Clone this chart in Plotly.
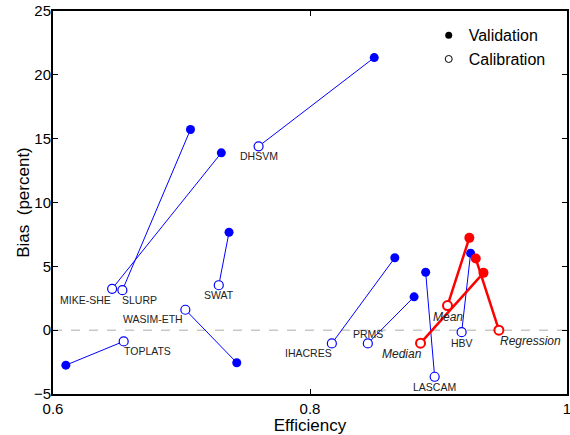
import plotly.graph_objects as go

# ---- data ----
models = ["DHSVM", "MIKE-SHE", "SLURP", "SWAT", "WASIM-ETH", "TOPLATS",
          "IHACRES", "PRMS", "LASCAM", "HBV"]
cal_eff = [0.760, 0.646, 0.654, 0.729, 0.703, 0.655, 0.817, 0.845, 0.897, 0.918]
cal_bias = [14.4, 3.24, 3.13, 3.52, 1.60, -0.88, -1.04, -1.04, -3.65, -0.16]
val_eff = [0.850, 0.731, 0.707, 0.737, 0.743, 0.610, 0.866, 0.881, 0.890, 0.925]
val_bias = [21.35, 13.89, 15.72, 7.67, -2.55, -2.74, 5.67, 2.61, 4.54, 6.03]

ens = ["Mean", "Median", "Regression"]
ens_cal_eff = [0.907, 0.886, 0.947]
ens_cal_bias = [1.93, -1.02, 0.0]
ens_val_eff = [0.924, 0.935, 0.929]
ens_val_bias = [7.23, 4.49, 5.61]

x_ticks = [0.6, 0.8, 1.0]
x_ticktext = ["0.6", "0.8", "1"]
y_ticks = [-5, 0, 5, 10, 15, 20, 25]

# label offsets (pixels) relative to calibration point
model_label_shift = {
    "DHSVM": (0, -10), "MIKE-SHE": (-27, -11), "SLURP": (17, -10),
    "SWAT": (0, -10), "WASIM-ETH": (-32, -9), "TOPLATS": (24, -10),
    "IHACRES": (-23, -10), "PRMS": (0, 9), "LASCAM": (0, -10), "HBV": (0, -11),
}
ens_label_shift = {"Mean": (0, -11), "Median": (-19, -11), "Regression": (32, -11)}

BLUE = "#0000ff"
RED = "#ff0000"
FONT = "Liberation Sans, Arial, Helvetica, sans-serif"

fig = go.Figure()

# blue model lines + markers
for i, m in enumerate(models):
    fig.add_trace(go.Scatter(x=[cal_eff[i], val_eff[i]], y=[cal_bias[i], val_bias[i]],
                             mode="lines", line=dict(color=BLUE, width=1),
                             showlegend=False, hoverinfo="skip"))
for i, m in enumerate(models):
    fig.add_trace(go.Scatter(x=[val_eff[i]], y=[val_bias[i]], mode="markers",
                             marker=dict(color=BLUE, size=9, line=dict(width=0)),
                             showlegend=False, name=m))
    fig.add_trace(go.Scatter(x=[cal_eff[i]], y=[cal_bias[i]], mode="markers",
                             marker=dict(color="white", size=9, line=dict(color=BLUE, width=1.2)),
                             showlegend=False, name=m))

# red ensemble lines + markers
for i, m in enumerate(ens):
    fig.add_trace(go.Scatter(x=[ens_cal_eff[i], ens_val_eff[i]], y=[ens_cal_bias[i], ens_val_bias[i]],
                             mode="lines", line=dict(color=RED, width=2.5),
                             showlegend=False, hoverinfo="skip"))
for i, m in enumerate(ens):
    fig.add_trace(go.Scatter(x=[ens_val_eff[i]], y=[ens_val_bias[i]], mode="markers",
                             marker=dict(color=RED, size=10, line=dict(width=0)),
                             showlegend=False, name=m))
    fig.add_trace(go.Scatter(x=[ens_cal_eff[i]], y=[ens_cal_bias[i]], mode="markers",
                             marker=dict(color="white", size=9, line=dict(color=RED, width=2)),
                             showlegend=False, name=m))

# legend entries
fig.add_trace(go.Scatter(x=[None], y=[None], mode="markers", name="Validation",
                         marker=dict(color="black", size=7, line=dict(width=0))))
fig.add_trace(go.Scatter(x=[None], y=[None], mode="markers", name="Calibration",
                         marker=dict(color="white", size=7, line=dict(color="black", width=1))))

# zero line
fig.add_hline(y=0, line=dict(color="#c8c8c8", width=1.5, dash="dash"), layer="below")

# labels
for i, m in enumerate(models):
    dx, dy = model_label_shift[m]
    fig.add_annotation(x=cal_eff[i], y=cal_bias[i], text=m, showarrow=False,
                       xshift=dx, yshift=dy, font=dict(family=FONT, size=10.5, color="#222"))
for i, m in enumerate(ens):
    dx, dy = ens_label_shift[m]
    fig.add_annotation(x=ens_cal_eff[i], y=ens_cal_bias[i], text="<i>%s</i>" % m, showarrow=False,
                       xshift=dx, yshift=dy, font=dict(family=FONT, size=12, color="#222"))

axis_common = dict(showline=True, linecolor="black", linewidth=2, mirror="ticks",
                   ticks="inside", ticklen=5, tickcolor="black", tickwidth=1,
                   showgrid=False, zeroline=False, automargin=False,
                   ticklabeloverflow="allow",
                   tickfont=dict(family=FONT, size=15, color="black"))

fig.update_layout(
    width=570, height=435,
    margin=dict(l=53, r=3, t=11, b=41),
    paper_bgcolor="white", plot_bgcolor="white",
    font=dict(family=FONT, color="black"),
    xaxis=dict(range=[0.6, 1.0], tickvals=x_ticks, ticktext=x_ticktext,
               title=dict(text="Efficiency", font=dict(family=FONT, size=17), standoff=2),
               **axis_common),
    yaxis=dict(range=[-5, 25], tickvals=y_ticks, ticklabelstandoff=-3,
               title=dict(text="Bias&nbsp;&nbsp;(percent)", font=dict(family=FONT, size=17), standoff=0),
               **axis_common),
    legend=dict(x=0.731, y=0.981, xanchor="left", yanchor="top",
                bgcolor="rgba(0,0,0,0)", borderwidth=0,
                font=dict(family=FONT, size=16, color="black"),
                tracegroupgap=0),
    showlegend=True,
)

fig.write_html("out.html", config={"displayModeBar": False},
               post_script="document.body.style.margin='0px';document.body.style.overflow='hidden';")
